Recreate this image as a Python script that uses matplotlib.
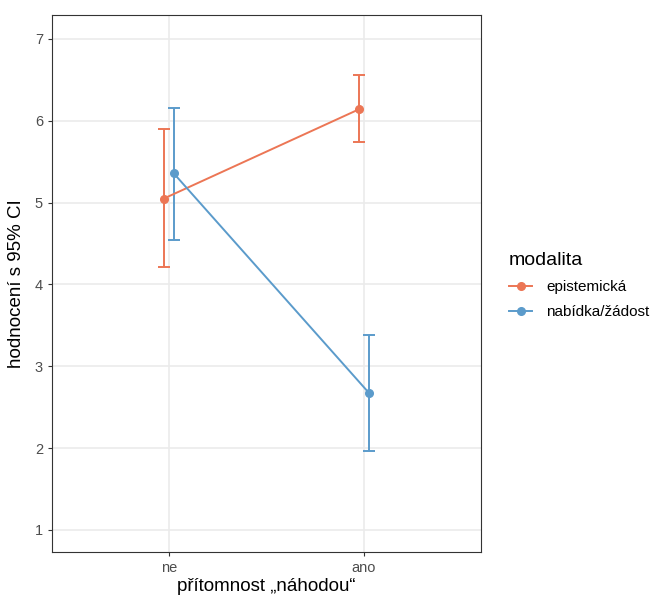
import matplotlib
matplotlib.use("Agg")
import matplotlib.pyplot as plt
from matplotlib.lines import Line2D
import numpy as np

plt.rcParams['font.family'] = ['Liberation Sans', 'DejaVu Sans']

categories = ["ne", "ano"]
groups = ["epistemická", "nabídka/žádost"]
means = {"epistemická": [5.05, 6.14], "nabídka/žádost": [5.36, 2.68]}
lower = {"epistemická": [4.21, 5.74], "nabídka/žádost": [4.54, 1.97]}
upper = {"epistemická": [5.90, 6.56], "nabídka/žádost": [6.16, 3.38]}
colors = {"epistemická": "#EC7655", "nabídka/žádost": "#5B9BCB"}
dodge = {"epistemická": -0.025, "nabídka/žádost": 0.025}
yticks = [1, 2, 3, 4, 5, 6, 7]

fig = plt.figure(figsize=(6.56, 5.98), dpi=100)
ax = fig.add_axes([52/656, 1-552/598, (481-52)/656, (552-15)/598])

x = np.arange(1, len(categories)+1)
for g in groups:
    xs = x + dodge[g]
    m = np.array(means[g]); lo = np.array(lower[g]); hi = np.array(upper[g])
    ax.errorbar(xs, m, yerr=[m-lo, hi-m], fmt='none', ecolor=colors[g],
                elinewidth=1.4, capsize=4, capthick=1.4, zorder=3)
    ax.plot(xs, m, color=colors[g], lw=1.4, marker='o', ms=5.5, zorder=4)

ax.set_xlim(0.4015, 2.6015)
ax.set_ylim(0.731, 7.293)
ax.set_xticks(x)
ax.set_xticklabels(categories)
ax.set_yticks(yticks)
ax.grid(True, color="#EBEBEB", lw=1.2)
ax.set_axisbelow(True)
for s in ax.spines.values():
    s.set_color("#333333"); s.set_linewidth(0.8)
ax.tick_params(colors="#333333", labelcolor="#4D4D4D", labelsize=10.5, length=3, width=0.8)
ax.set_xlabel("přítomnost „náhodou“", fontsize=13.5, labelpad=2)
ax.set_ylabel("hodnocení s 95% CI", fontsize=13.5, labelpad=7)

handles = [Line2D([0], [0], color=colors[g], lw=1.4, marker='o', ms=5.5) for g in groups]
leg = fig.legend(handles, groups, loc='upper left', bbox_to_anchor=(495/656, 1-238/598),
                 frameon=False, title="modalita", fontsize=11, title_fontsize=14,
                 handlelength=1.55, labelspacing=0.75, alignment='left', handletextpad=0.9)
leg._legend_box.sep = 8

fig.savefig("out.png", dpi=100)
